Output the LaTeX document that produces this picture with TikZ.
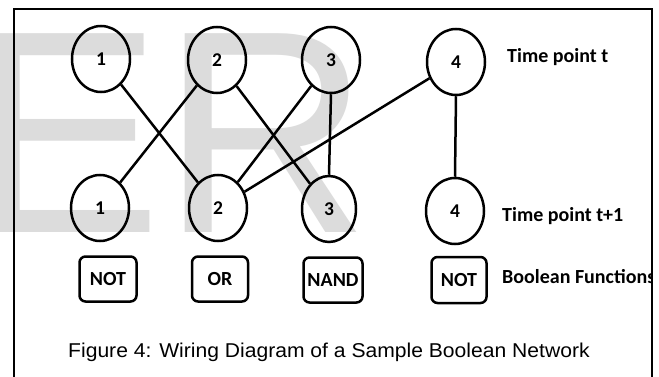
\documentclass[tikz,border=0pt]{standalone}
\usepackage{fontspec}
\usetikzlibrary{shapes.geometric}
\newfontfamily\calibri{Carlito}
\newfontfamily\arial{Liberation Sans}
\definecolor{wmgray}{RGB}{220,220,220}
\tikzset{
  gene/.style={ellipse, draw, line width=2.5pt, minimum width=58pt, minimum height=66pt,
    inner sep=0pt, font=\calibri\bfseries\fontsize{19.5}{19.5}\selectfont},
  fnbox/.style={rectangle, rounded corners=6pt, draw, line width=2.5pt, minimum width=56pt,
    minimum height=45pt, inner sep=0pt, font=\calibri\bfseries\fontsize{20}{20}\selectfont},
  wire/.style={line width=2.5pt},
  rowlabel/.style={anchor=base west, inner sep=0pt, font=\calibri\bfseries\fontsize{20}{20}\selectfont},
}
\begin{document}
\begin{tikzpicture}[x=1pt, y=-1pt]
\useasboundingbox (0,0) rectangle (659,377);
\clip (0,0) rectangle (659,377);
\fill[white] (0,0) rectangle (659,377);

% watermark letters in the background
\node[anchor=base west, inner sep=0pt, text=wmgray,
      font=\arial\fontsize{289}{289}\selectfont] (wm) at (-31,232) {ER};

% frame (open at the bottom)
\draw[line width=2pt] (14,377) -- (14,9) -- (652,9) -- (652,377);

% genes at time point t
\node[gene] (t1) at (101,59) {1};
\node[gene] (t2) at (217,60) {2};
\node[gene] (t3) at (331,60) {3};
\node[gene] (t4) at (456,62) {4};

% genes at time point t+1
\node[gene] (s1) at (100,208) {1};
\node[gene] (s2) at (218,208) {2};
\node[gene, minimum width=54pt] (s3) at (329,209) {3};
\node[gene] (s4) at (455,211) {4};

% boolean functions
\node[fnbox, minimum width=57pt] (f1) at (108,279) {NOT};
\node[fnbox] (f2) at (220,279) {OR};
\node[fnbox, minimum width=59pt] (f3) at (333,280) {NAND};
\node[fnbox, minimum width=55pt, minimum height=46pt] (f4) at (459,280) {NOT};

% wiring
\draw[wire] (t1) -- (s2);
\draw[wire] (t2) -- (s1);
\draw[wire] (t2) -- (s3);
\draw[wire] (t3) -- (s2);
\draw[wire] (t3.south) -- (s3.north);
\draw[wire] (t4) -- (s2);
\draw[wire] (t4.south) -- (s4.north);

% row labels
\begin{scope}
\clip (14,9) rectangle (651,377);
\node[rowlabel] (lt)  at (507,63)  {Time point t};
\node[rowlabel] (lt1) at (502,222) {Time point t+1};
\node[rowlabel] (lbf) at (502,283) {Boolean Functions};
\end{scope}

% caption
\node[anchor=base west, inner sep=0pt, font=\arial\fontsize{20}{20}\selectfont] (cap) at (68,357)
  {\scalebox{1.055}[1]{Figure 4: Wiring Diagram of a Sample Boolean Network}};
\end{tikzpicture}
\end{document}
